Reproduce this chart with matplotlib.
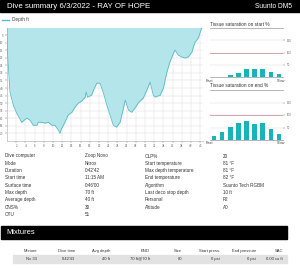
import matplotlib
matplotlib.use("Agg")
import matplotlib.pyplot as plt
from matplotlib.lines import Line2D
from matplotlib.patches import Rectangle

# ---------------- data ----------------
time_min = [0, 0.07, 0.28, 0.65, 1.37, 2.1, 3.2, 4.3, 5.0, 5.7, 6.5, 6.8, 7.5, 8.3, 9.0,
            9.7, 10.4, 11.2, 11.5, 11.9, 12.6, 13.3, 14.1, 14.8, 15.5, 16.2, 17.0, 17.2,
            17.5, 18.4, 18.8, 19.5, 20.2, 20.9, 21.7, 22.4, 23.1, 23.8, 24.6, 25.3, 25.7,
            26.4, 27.1, 27.8, 28.5, 29.6, 30.4, 31.1, 31.8, 32.2, 33.3, 34.0, 34.7, 35.4,
            36.2, 36.5, 37.2, 38.0, 38.7, 39.4, 40.2, 40.5, 40.9, 41.6, 42.0, 42.3, 42.6]
depth_ft = [0, 13.6, 24.8, 42.7, 51.3, 56.6, 62.6, 59.9, 61.3, 64.6, 64.6, 62.6, 62.6, 63.2,
            62.6, 64.6, 64.6, 67.9, 69.9, 66.6, 62.6, 57.9, 56.0, 52.6, 50.0, 48.7, 46.0,
            42.7, 46.0, 44.7, 41.4, 36.8, 36.8, 42.7, 51.3, 57.9, 64.6, 65.9, 62.6, 53.3,
            48.0, 54.6, 56.0, 53.3, 50.0, 46.7, 41.4, 36.1, 44.7, 46.0, 44.7, 40.1, 30.1,
            22.8, 16.9, 14.9, 18.2, 19.5, 20.2, 19.5, 16.2, 12.9, 9.6, 7.0, 3.0, 0.3, 0]

x_ticks = list(range(2, 43, 2))
y_ticks = list(range(5, 71, 5))

tissue_start = [0, 0, 7, 18, 32, 32, 32, 21, 11]
tissue_end = [18, 34, 51, 68, 78, 64, 67, 45, 23]
tissue_ticks = [50, 100, 150]

info_left_labels = ["Dive computer", "Mode", "Duration", "Start time", "Surface time",
                    "Max depth", "Average depth", "CNS%", "OTU"]
info_left_values = ["Zoop Novo", "Nitrox", "0:42'42", "11:15 AM", "0:46'00",
                    "70 ft", "40 ft", "30", "51"]
info_right_labels = ["OLP%", "Start temperature", "Max depth temperature", "End temperature",
                     "Algorithm", "Last deco stop depth", "Personal", "Altitude"]
info_right_values = ["20", "81 °F", "81 °F", "82 °F", "Suunto Tech RGBM", "10 ft", "P2", "A0"]

mix_headers = ["Mixture", "Dive time", "Avg depth", "END", "Size", "Start press.",
               "End pressure", "SAC"]
mix_values = ["Nx 33", "0:42'43", "40 ft", "70 ft@70 ft", "80", "0 psi", "0 psi", "0.00 cu ft"]

# ---------------- figure ----------------
W, H = 300, 268
fig = plt.figure(figsize=(W / 100, H / 100), dpi=100)
fig.patch.set_facecolor("white")
plt.rcParams['font.family'] = ['Liberation Sans', 'DejaVu Sans']

def box(x0, y0, x1, y1):
    return [x0 / W, 1 - y1 / H, (x1 - x0) / W, (y1 - y0) / H]

def fx(x):
    return x / W

def fy(y):
    return 1 - y / H

# title bar
fig.patches.append(Rectangle((0, fy(12)), 1, 12 / H, transform=fig.transFigure,
                             color="black", zorder=0))
fig.text(fx(7), fy(6.2), "Dive summary 6/3/2022 - RAY OF HOPE", color="white",
         fontsize=5.7, va="center", ha="left")
fig.text(fx(292), fy(6.2), "Suunto DM5", color="white", fontsize=4.8, va="center", ha="right")

# main depth chart
teal_line = "#5bbcc5"
teal_fill = "#b4e5ea"
ax = fig.add_axes(box(7, 27.5, 203, 141))
ax.fill_between(time_min, 0, depth_ft, color=teal_fill, lw=0, zorder=2)
ax.plot(time_min, depth_ft, color=teal_line, lw=0.6, zorder=3)
ax.set_xlim(0, 42.6)
ax.set_ylim(75, 0)
ax.set_xticks(x_ticks)
ax.set_yticks(y_ticks)
ax.set_xticklabels([str(v) for v in x_ticks])
ax.set_yticklabels([str(v) for v in y_ticks])
ax.tick_params(labelsize=2.2, colors="#666666", length=1.5, width=0.3, pad=1)
ax.grid(True, color="#dedede", lw=0.35, zorder=1)
ax.set_axisbelow(True)
for s in ["top", "right"]:
    ax.spines[s].set_visible(False)
for s in ["left", "bottom"]:
    ax.spines[s].set_color("#bbbbbb")
    ax.spines[s].set_linewidth(0.5)

fig.lines.append(Line2D([fx(2), fx(9)], [fy(20), fy(20)], transform=fig.transFigure,
                        color=teal_line, lw=1.0))
fig.text(fx(12), fy(20), "Depth ft", fontsize=3.4, color="#444444", va="center", ha="left")

# tissue charts
bar_color = "#1ab3b8"

def tissue(y0, y1, vals, title):
    a = fig.add_axes(box(210, y0, 283, y1))
    a.bar(range(len(vals)), vals, width=0.55, color=bar_color, zorder=3)
    a.set_xlim(-0.5, len(vals) - 0.5)
    a.set_ylim(0, 200)
    a.set_yticks(tissue_ticks)
    a.set_yticklabels([str(v) for v in tissue_ticks])
    a.yaxis.tick_right()
    a.set_xticks([])
    a.tick_params(labelsize=2.0, colors="#666666", length=1.5, width=0.3, pad=1)
    a.grid(True, axis="y", color="#dddddd", lw=0.35, zorder=1)
    a.axhline(100, color="#c99a9a", lw=0.6, zorder=2)
    for s in ["top", "right", "left"]:
        a.spines[s].set_visible(False)
    a.spines["bottom"].set_color("#999999")
    a.spines["bottom"].set_linewidth(0.5)
    fig.text(fx(210), fy(y0 - 4), title, fontsize=3.4, color="#333333", va="center", ha="left")
    fig.text(fx(206), fy(y1 + 3.5), "Fast", fontsize=2.8, color="#444444", va="center", ha="left")
    fig.text(fx(285), fy(y1 + 3.5), "Slow", fontsize=2.8, color="#444444", va="center", ha="right")
    fig.lines.append(Line2D([fx(210), fx(283)], [fy(y0), fy(y0)], transform=fig.transFigure,
                            color="#999999", lw=0.5))
    return a

tissue(28, 77, tissue_start, "Tissue saturation on start %")
tissue(90, 140, tissue_end, "Tissue saturation on end %")

# info table
txt_color = "#333333"
row0 = 156.0
dy = 7.3
for i, (lab, val) in enumerate(zip(info_left_labels, info_left_values)):
    y = row0 + i * dy
    fig.text(fx(5), fy(y), lab, fontsize=3.3, color=txt_color, va="center", ha="left")
    fig.text(fx(85), fy(y), val, fontsize=3.3, color=txt_color, va="center", ha="left")
for i, (lab, val) in enumerate(zip(info_right_labels, info_right_values)):
    y = row0 + i * dy
    fig.text(fx(145), fy(y), lab, fontsize=3.3, color=txt_color, va="center", ha="left")
    fig.text(fx(223), fy(y), val, fontsize=3.3, color=txt_color, va="center", ha="left")

# mixtures bar
fig.patches.append(Rectangle((fx(1), fy(239)), (287 - 1) / W, 13 / H,
                             transform=fig.transFigure, color="black", zorder=0))
fig.text(fx(6), fy(232.5), "Mixtures", color="white", fontsize=5.4, va="center", ha="left")

col_right = [37, 75, 110, 150, 182, 220, 256, 283]
fig.patches.append(Rectangle((fx(13), fy(262.5)), (287 - 13) / W, 7.5 / H,
                             transform=fig.transFigure, color="#e2e2e2", zorder=0))
for xr, h, v in zip(col_right, mix_headers, mix_values):
    fig.text(fx(xr), fy(251), h, fontsize=3.0, color=txt_color, va="center", ha="right")
    fig.text(fx(xr), fy(258.8), v, fontsize=3.0, color=txt_color, va="center", ha="right")

fig.savefig("out.png", dpi=100, facecolor="white")
